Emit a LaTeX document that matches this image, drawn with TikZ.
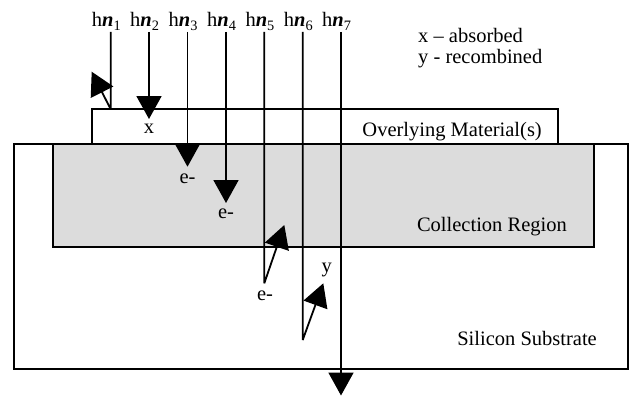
\documentclass[tikz,border=0pt]{standalone}
\usepackage{fontspec}
\setmainfont{Liberation Serif}
\usetikzlibrary{arrows.meta}
\definecolor{graybg}{RGB}{220,220,220}
\begin{document}
\begin{tikzpicture}[x=1pt,y=-1pt,
  txt/.style={inner sep=0pt,font=\fontsize{20.5}{24}\selectfont},
  ray/.style={line width=1.8pt,line join=bevel,-{Triangle[length=23pt,width=25pt]}},
  box/.style={draw,line width=1.7pt}]
\useasboundingbox (0,0) rectangle (629,396);
% layers
\draw[box] (14.3,144.3) rectangle (628,369.3);
\filldraw[box,fill=graybg] (53.3,144.3) rectangle (594.3,246.7);
\draw[box] (92.3,109.3) rectangle (558,144.3);
% region labels
\node[txt,anchor=base east] (ovl) at (542,136) {Overlying Material(s)};
\node[txt,anchor=base east] (col) at (567,231) {Collection Region};
\node[txt,anchor=base east] (sub) at (597,345) {Silicon Substrate};
\node[txt,anchor=base west] (leg1) at (418,42.7) {x -- absorbed};
\node[txt,anchor=base west] (leg2) at (418,63.5) {y - recombined};
% ray labels
\foreach \i/\x in {1/110.7,2/149,3/187.5,4/226,5/264.3,6/302.7,7/341}{
  \node[txt,anchor=base west] (h\i) at (\x-19,27) {h\textbf{\textit{n}}\textsubscript{\i}};
  \coordinate (t\i) at (\x,32);
}
% end points
\coordinate (s1) at (110.7,109.3);
\coordinate (r1) at (91.7,71.7);
\coordinate (e2) at (149,119);
\coordinate (e3) at (187.5,166.7);
\coordinate (e4) at (226,203);
\coordinate (b5) at (264.3,283.3);
\coordinate (r5) at (284.3,225);
\coordinate (b6) at (302.7,340);
\coordinate (r6) at (323.3,283.3);
\coordinate (e7) at (341,395.5);
% rays
\draw[ray] (t1) -- (s1) -- (r1);
\draw[ray] (t2) -- (e2);
\draw[ray] (t3) -- (e3);
\draw[ray] (t4) -- (e4);
\draw[ray] (t5) -- (b5) -- (r5);
\draw[ray] (t6) -- (b6) -- (r6);
\draw[ray] (t7) -- (e7);
% event labels
\node[txt,anchor=base] (lx) at (149,133) {x};
\node[txt,anchor=base] (le3) at (187.5,183) {e-};
\node[txt,anchor=base] (le4) at (226,218) {e-};
\node[txt,anchor=base] (le5) at (265,300) {e-};
\node[txt,anchor=base] (ly) at (326.7,272) {y};
\end{tikzpicture}
\end{document}
